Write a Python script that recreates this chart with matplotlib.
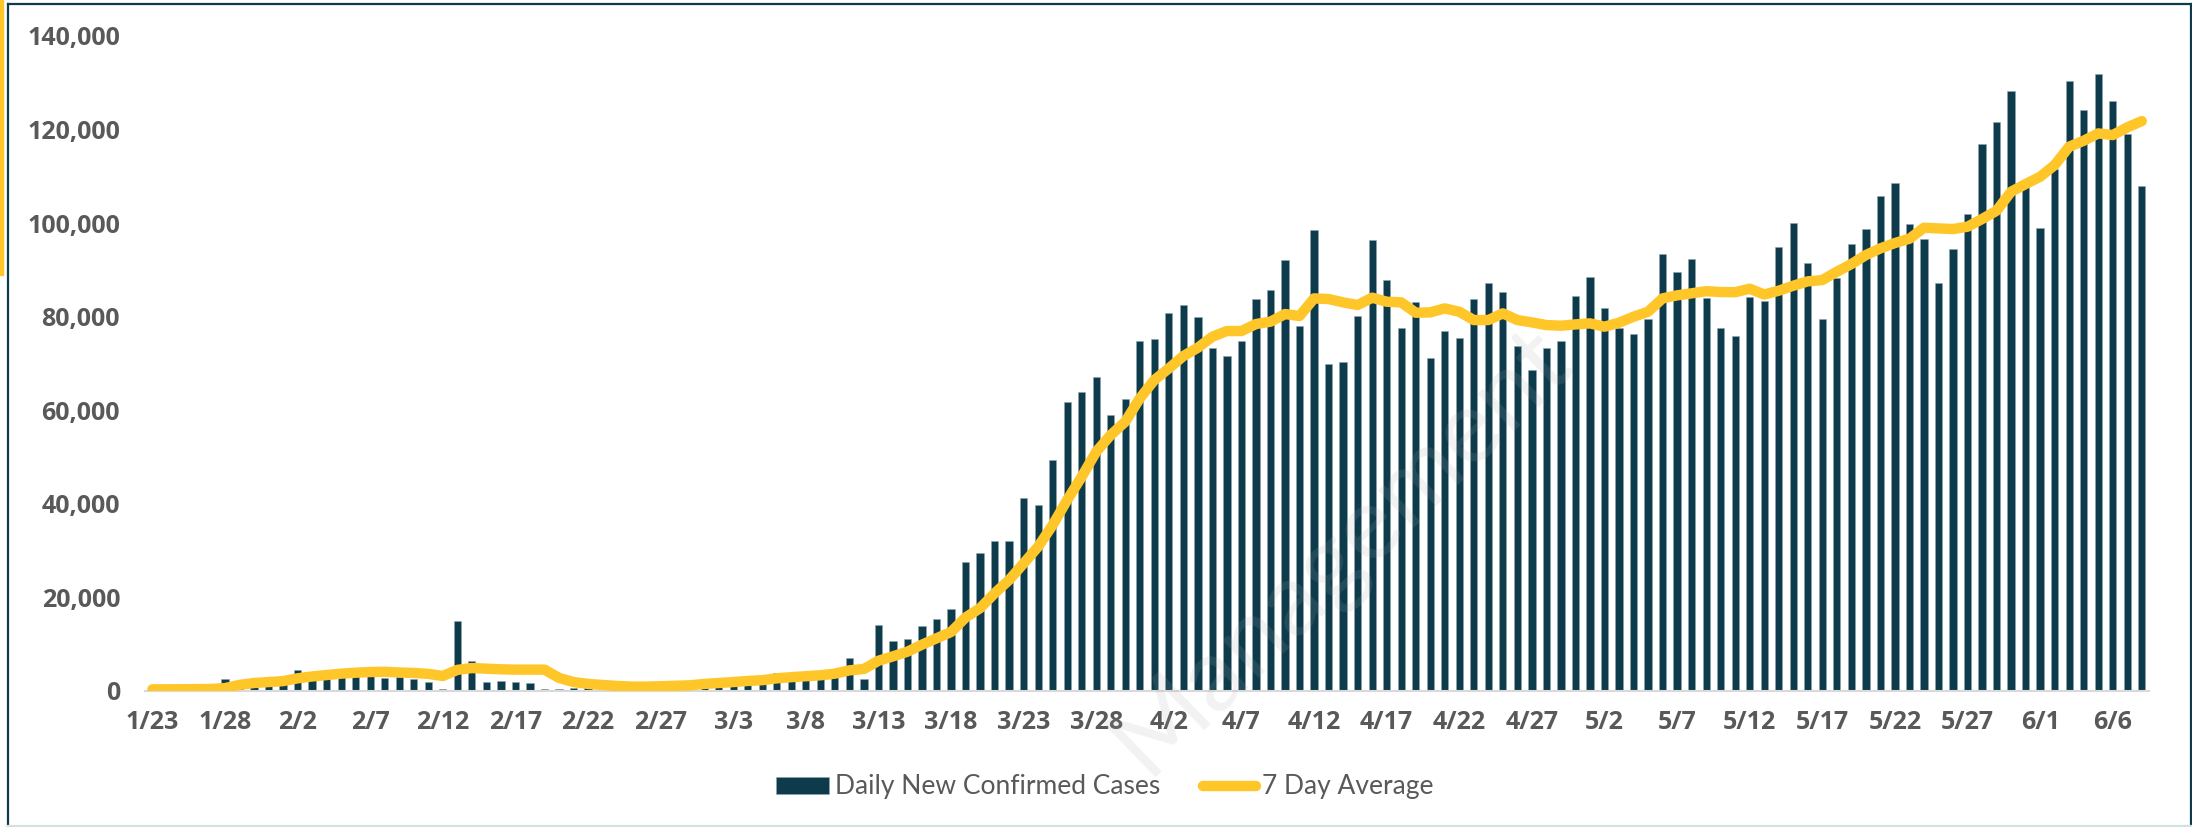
import matplotlib
matplotlib.use("Agg")
import matplotlib.pyplot as plt
from matplotlib.lines import Line2D
from matplotlib.patches import Rectangle
from matplotlib.ticker import FuncFormatter
import pandas as pd

# daily new confirmed cases, 1/23 .. 6/8
start_date = "2020-01-23"
end_date = "2020-06-08"

daily_cases = [
    100, 290, 490, 680, 810, 2500, 590, 2070, 1690, 2100,
    4560, 3100, 3800, 3700, 3200, 3600, 2700, 3000, 2600, 1900,
    420, 14960, 6420, 2000, 2060, 1900, 1700, 450, 520, 620,
    1750, 390, 600, 850, 980, 1360, 1370, 1900, 2360, 1940,
    2530, 2280, 2770, 3800, 3900, 3900, 3800, 4700, 7100, 2500,
    14000, 10700, 11200, 13900, 15300, 17500, 27600, 29400, 32100, 32100,
    41200, 39800, 49400, 61800, 63900, 67200, 59000, 62300, 74700, 75300,
    80700, 82400, 80000, 73200, 71600, 74900, 83700, 85800, 92100, 78000,
    98600, 69900, 70300, 80100, 96300, 87800, 77500, 83100, 71200, 76900,
    75400, 83700, 87200, 85300, 73800, 68500, 73400, 74900, 84500, 88500,
    81900, 77500, 76200, 79600, 93300, 89500, 92300, 83900, 77500, 75800,
    84300, 83300, 95000, 100100, 91500, 79400, 88200, 95500, 98800, 105900,
    108600, 99800, 96500, 87300, 94500, 102000, 117000, 121700, 128200, 107700,
    98900, 111600, 130300, 124200, 131900, 126200, 119000, 108000,
]

seven_day_avg = [
    350, 350, 380, 400, 420, 600, 1300, 1700, 1900, 2100,
    2700, 3100, 3400, 3700, 3900, 4050, 4100, 3950, 3850, 3650,
    3200, 4500, 4900, 4770, 4630, 4560, 4560, 4560, 2800, 1900,
    1500, 1280, 1070, 930, 930, 1000, 1100, 1200, 1500, 1700,
    1900, 2140, 2300, 2700, 2950, 3150, 3350, 3700, 4400, 4700,
    6450, 7400, 8400, 9900, 11250, 12600, 15700, 17700, 20870, 23720,
    27280, 30840, 35470, 40820, 45800, 51140, 54710, 57560, 62540, 66460,
    68950, 71590, 73370, 75720, 76930, 76930, 78430, 78930, 80560, 80140,
    83910, 83770, 83060, 82490, 84060, 83200, 83060, 80850, 80920, 81770,
    81060, 79280, 79280, 80710, 79280, 78780, 78210, 78070, 78350, 78570,
    77860, 78710, 79990, 81060, 83910, 84560, 84990, 85450, 85270, 85230,
    85980, 84740, 85550, 86620, 87550, 87830, 89610, 91250, 93170, 94600,
    95740, 96660, 99010, 98870, 98730, 99230, 100870, 102650, 106710, 108350,
    109910, 112410, 116330, 117610, 119170, 118820, 120460, 121810,
]

dates = pd.date_range(start_date, end_date)
date_labels = [f"{d.month}/{d.day}" for d in dates]
x = list(range(len(dates)))

BAR_COLOR = "#0d3b4c"
LINE_COLOR = "#ffc62a"
TEXT_COLOR = "#595959"

plt.rcParams["font.family"] = ["Lato", "DejaVu Sans"]

fig = plt.figure(figsize=(21.92, 8.27), dpi=100)
ax = fig.add_axes([0.0662, 0.1645, 0.9142, 0.792])

bars = ax.bar(x, daily_cases, width=0.5, color=BAR_COLOR, edgecolor="#8fa6ad",
              linewidth=0.4, label="Daily New Confirmed Cases", zorder=2)
avg_line, = ax.plot(x, seven_day_avg, color=LINE_COLOR, linewidth=7.5,
                    solid_capstyle="round", solid_joinstyle="round",
                    label="7 Day Average", zorder=3)

ax.set_xlim(-0.5, len(x) - 0.5)
ax.set_ylim(0, 140000)
ax.set_yticks(range(0, 140001, 20000))
ax.yaxis.set_major_formatter(FuncFormatter(lambda v, p: f"{int(v):,}"))
ax.set_xticks(x[::5])
ax.set_xticklabels(date_labels[::5])

ax.tick_params(axis="both", length=0, labelcolor=TEXT_COLOR)
ax.tick_params(axis="x", pad=14)
ax.tick_params(axis="y", pad=18)
for lbl in ax.get_xticklabels() + ax.get_yticklabels():
    lbl.set_fontweight("bold")
    lbl.set_fontfamily(["Open Sans", "DejaVu Sans"])
    lbl.set_fontsize(18)

for side in ["top", "left", "right"]:
    ax.spines[side].set_visible(False)
ax.spines["bottom"].set_color("#d9d9d9")
ax.spines["bottom"].set_linewidth(1.5)

leg = fig.legend(handles=[bars, avg_line], loc="center",
                 bbox_to_anchor=(0.504, 0.0484), ncol=2,
                 frameon=False, fontsize=19, handlelength=2.0,
                 handleheight=0.6, handletextpad=0.25, columnspacing=1.6)
for t in leg.get_texts():
    t.set_color(TEXT_COLOR)

# faint watermark
fig.text(0.612, 0.335, "Management", rotation=44, fontsize=74,
         color="#a8a8a8", alpha=0.15, ha="center", va="center", zorder=10)

# frame round the picture
W, H = 2192, 827
border = "#0e3b4b"
fig.add_artist(Line2D([8 / W, 1], [1 - 3.7 / H, 1 - 3.7 / H], color=border, lw=1.6))
fig.add_artist(Line2D([8.3 / W, 8.3 / W], [0, 1 - 3.7 / H], color=border, lw=1.6))
fig.add_artist(Line2D([2191 / W, 2191 / W], [0, 1 - 3.7 / H], color=border, lw=1.6))
fig.add_artist(Line2D([8 / W, 1], [1 / H, 1 / H], color="#d3dfe1", lw=1.6))
fig.add_artist(Rectangle((0, 1 - 275 / H), 2.5 / W, 275 / H, color=LINE_COLOR,
                         transform=fig.transFigure))

fig.savefig("out.png", dpi=100)
